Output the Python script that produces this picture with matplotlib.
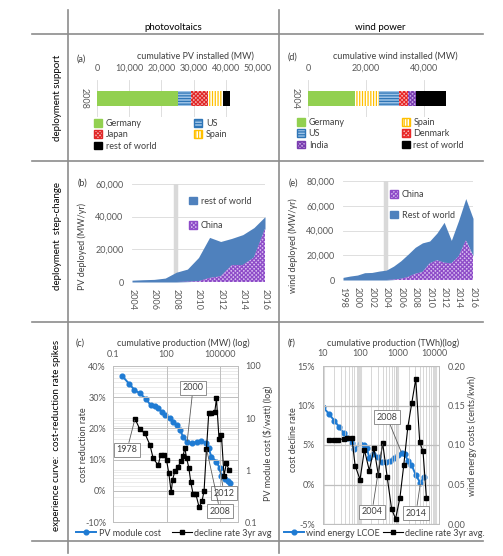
import matplotlib
matplotlib.use("Agg")
import numpy as np
import matplotlib.pyplot as plt
from matplotlib.lines import Line2D
from matplotlib.patches import Patch
from matplotlib.ticker import FuncFormatter, FixedLocator, LogLocator, NullFormatter, NullLocator

plt.rcParams['font.family'] = ['Lato', 'DejaVu Sans']
plt.rcParams['hatch.linewidth'] = 0.9

# (a) cumulative PV installed, 2008 (MW)
pv_countries = ['Germany', 'US', 'Japan', 'Spain', 'rest of world']
pv_installed_2008 = [25100, 4200, 5200, 4500, 2200]

# (d) cumulative wind installed, 2004 (MW)
wind_countries = ['Germany', 'Spain', 'US', 'Denmark', 'India', 'rest of world']
wind_installed_2004 = [16200, 8400, 6800, 3100, 2700, 10300]

# (b) PV deployed per year (MW/yr)
pv_years = list(range(2004, 2017))
pv_china = [0, 0, 0, 0, 0, 200, 500, 2500, 3500, 10300, 10400, 15000, 32700]
pv_rest = [1100, 1400, 1600, 2400, 6000, 7700, 14500, 24800, 21300, 16400, 18600, 18300, 7300]

# (e) wind deployed per year (MW/yr)
wind_years = list(range(1998, 2017))
wind_china = [0, 0, 0, 0, 0, 0, 0, 300, 1000, 2500, 5000, 6500, 13500, 16000, 14000, 13500, 19000, 32000, 19500]
wind_rest = [2100, 3200, 4000, 5900, 6100, 7200, 8000, 10900, 14500, 18300, 21400, 23500, 18000, 21900, 32600,
             18500, 29000, 33800, 30300]

# (c) PV experience curve
pv_cum_mw = [0.33, 0.78, 1.55, 3.2, 6.7, 12.8, 22, 34, 52, 80, 152, 234, 363, 550, 850, 1410, 2500, 4780,
             9000, 17000, 23000, 32000, 62000, 95000, 118000, 182000, 277000, 343000]
pv_module_cost = [64, 46, 35, 29.6, 23.7, 17.7, 17.1, 15.7, 13.1, 11.4, 9.8, 8.5, 7.3, 5.9, 4.4, 3.4, 3.3, 3.4,
                  3.6, 3.3, 2.6, 1.8, 1.45, 1.08, 0.75, 0.68, 0.62, 0.56]
pv_rate_cum_mw = [1.7, 3.2, 6.1, 11.7, 17.8, 34, 46, 71, 100, 134, 181, 216, 291, 445, 630, 845, 1050, 1310,
                  1760, 2280, 3060, 4330, 6620, 9750, 12600, 17200, 23100, 32700, 49900, 62100, 86800, 118000,
                  165000, 225000, 314000]
pv_decline_rate = [23.1, 19.7, 18.4, 14.7, 10.4, 8.2, 11.5, 11.4, 9.8, 5.6, -0.5, 3.4, 6.4, 7.7, 9.6, 11.2, 13.8,
                   10.6, 7.4, 2.7, -1.0, -1.0, -5.2, -3.2, 0.0, 13.5, 25.0, 25.0, 25.2, 29.6, 16.5, 17.9, 4.8,
                   8.9, 6.6]

# (f) wind experience curve
wind_cum_twh = [10, 14.7, 20, 27, 36, 45, 60, 70, 99, 127, 150, 176, 225, 296, 378, 483, 630, 806, 1050, 1300,
                1585, 1945, 2400, 3125, 4170, 5110]
wind_lcoe = [0.148, 0.139, 0.131, 0.123, 0.115, 0.109, 0.103, 0.095, 0.101, 0.100, 0.096, 0.084, 0.089, 0.085,
             0.079, 0.078, 0.080, 0.083, 0.087, 0.090, 0.088, 0.080, 0.075, 0.062, 0.052, 0.059]
wind_rate_cum_twh = [14.1, 19.2, 26, 36, 45, 60, 73, 99, 130, 176, 235, 307, 402, 533, 700, 895, 1170, 1490,
                     1910, 2440, 3125, 4000, 4900, 6040]
wind_decline_rate = [5.64, 5.64, 5.68, 5.77, 5.86, 5.86, 2.4, 0.63, 4.38, 1.77, 4.6, 1.22, 5.27, 0.93, -3.1,
                     -4.33, -1.72, 2.49, 7.25, 10.3, 13.35, 5.35, 4.2, -1.72]

W, H = 503, 556
fig = plt.figure(figsize=(W / 100, H / 100), dpi=100)

grey = '#D9D9D9'
tick_col = '#595959'
text_col = '#404040'
area_blue = '#4F81BD'
line_blue = '#1F7BD3'
fs = 6.5

# hatch styles for countries
styles = {
    'Germany': dict(facecolor='#92D050', edgecolor='#92D050', hatch=None),
    'US': dict(facecolor='#9DC3E6', edgecolor='#2E75B6', hatch='------'),
    'Japan': dict(facecolor='#F4B0B0', edgecolor='#E02828', hatch='xxxxxxxx'),
    'Spain': dict(facecolor='#FFFFFF', edgecolor='#FFC000', hatch='||||||'),
    'Denmark': dict(facecolor='#F7B8B8', edgecolor='#E82828', hatch='xxxxxxxx'),
    'India': dict(facecolor='#C9A9E6', edgecolor='#7A3DB0', hatch='xxxxxxxx'),
    'rest of world': dict(facecolor='#000000', edgecolor='#000000', hatch=None),
}
china_style = dict(facecolor='#D7BDF0', edgecolor='#8E4CC8', hatch='xxxxxxxx')


def box(l, t, r, b):
    return [l / W, 1 - b / H, (r - l) / W, (b - t) / H]


def ftext(x, y, s, **kw):
    kw.setdefault('fontsize', fs)
    kw.setdefault('ha', 'center')
    kw.setdefault('va', 'center')
    return fig.text(x / W, 1 - y / H, s, **kw)


def rule(x0, y0, x1, y1):
    fig.add_artist(Line2D([x0 / W, x1 / W], [1 - y0 / H, 1 - y1 / H], color='#8C8C8C', lw=1.2))


# table frame
rule(68, 10, 68, 553)
rule(279, 10, 279, 553)
for yy in [34, 161, 322, 541]:
    rule(32, yy, 483, yy)

ftext(173, 28, 'photovoltaics', fontsize=7)
ftext(380, 28, 'wind power', fontsize=7)
ftext(57, 98, 'deployment support', rotation=90, fontsize=7)
ftext(57, 236, 'deployment  step-change', rotation=90, fontsize=7)
ftext(57, 435, 'experience curve:  cost-reduction rate spikes', rotation=90, fontsize=7)

comma = FuncFormatter(lambda v, p: f'{v:,.0f}')


# ---- bar panels ----
def bar_panel(rect, countries, values, xmax, ticks, year):
    ax = fig.add_axes(box(*rect))
    left = 0
    for c, v in zip(countries, values):
        ax.barh(0, v, left=left, height=0.38, lw=0, **styles[c])
        left += v
    ax.set_xlim(0, xmax)
    ax.set_ylim(-0.5, 0.5)
    ax.set_xticks(ticks)
    ax.xaxis.set_major_formatter(comma)
    ax.xaxis.tick_top()
    ax.set_yticks([0])
    ax.set_yticklabels([year], rotation=-90, va='center')
    ax.tick_params(length=0, labelsize=fs, colors=tick_col)
    ax.tick_params(axis='x', pad=5)
    ax.tick_params(axis='y', pad=6)
    ax.grid(axis='x', color=grey, lw=0.6)
    ax.set_axisbelow(True)
    for s in ax.spines.values():
        s.set_visible(False)
    return ax


ax_a = bar_panel((97, 80, 258, 117), pv_countries, pv_installed_2008, 50000, range(0, 50001, 10000), '2008')
ftext(81, 59, '(a)', color=text_col)
ftext(195, 56, 'cumulative PV installed (MW)', color=text_col)
order_a = ['Germany', 'Japan', 'rest of world', 'US', 'Spain']
fig.legend([Patch(**styles[c]) for c in order_a], order_a, ncol=2, loc='upper left',
           bbox_to_anchor=(94 / W, 1 - 119 / H), frameon=False, fontsize=fs, handlelength=0.9,
           handleheight=0.9, handletextpad=0.4, columnspacing=4.2, labelspacing=0.25, borderaxespad=0,
           borderpad=0, labelcolor=text_col)

ax_d = bar_panel((308, 80, 453, 117), wind_countries, wind_installed_2004, 50000, [0, 20000, 40000], '2004')
ftext(292, 57, '(d)', color=text_col)
ftext(395, 56, 'cumulative wind installed (MW)', color=text_col)
order_d = ['Germany', 'US', 'India', 'Spain', 'Denmark', 'rest of world']
fig.legend([Patch(**styles[c]) for c in order_d], order_d, ncol=2, loc='upper left',
           bbox_to_anchor=(297 / W, 1 - 118 / H), frameon=False, fontsize=fs, handlelength=0.9,
           handleheight=0.9, handletextpad=0.4, columnspacing=6.3, labelspacing=0.25, borderaxespad=0,
           borderpad=0, labelcolor=text_col)


# ---- area panels ----
def area_panel(rect, years, china, rest, ymax, ystep, band_year):
    ax = fig.add_axes(box(*rect))
    yrs = np.array(years)
    ch = np.array(china)
    tot = ch + np.array(rest)
    ax.axvline(band_year, color=grey, lw=3.2, zorder=1)
    ax.fill_between(yrs, ch, tot, color=area_blue, lw=0, zorder=2)
    ax.fill_between(yrs, 0, ch, lw=0, zorder=3, **china_style)
    ax.set_xlim(years[0], years[-1])
    ax.set_ylim(0, ymax)
    ax.set_yticks(range(0, ymax + 1, ystep))
    ax.yaxis.set_major_formatter(comma)
    ax.set_xticks(range(years[0], years[-1] + 1, 2))
    ax.tick_params(axis='x', rotation=-90, pad=5)
    ax.tick_params(length=0, labelsize=fs, colors=tick_col)
    ax.tick_params(axis='y', pad=6)
    ax.grid(axis='y', color=grey, lw=0.6)
    ax.set_axisbelow(True)
    for s in ax.spines.values():
        s.set_visible(False)
    return ax


ax_b = area_panel((132, 184, 265, 282), pv_years, pv_china, pv_rest, 60000, 20000, 2008)
ftext(82, 183, '(b)', color=text_col)
ftext(82, 246, 'PV deployed (MW/yr)', rotation=90, color=text_col)
ax_b.legend([Patch(color=area_blue), Patch(**china_style)], ['rest of world', 'China'], loc='upper left',
            bbox_to_anchor=(0.43, 0.87), frameon=False, fontsize=fs, handlelength=0.9, handleheight=0.9,
            handletextpad=0.4, labelspacing=1.7, borderpad=0, borderaxespad=0, labelcolor=text_col)

ax_e = area_panel((343, 181, 473, 280), wind_years, wind_china, wind_rest, 80000, 20000, 2004)
ftext(293, 183, '(e)', color=text_col)
ftext(293, 246, 'wind deployed (MW/yr)', rotation=90, color=text_col)
ax_e.legend([Patch(**china_style), Patch(color=area_blue)], ['China', 'Rest of world'], loc='upper left',
            bbox_to_anchor=(0.36, 0.91), frameon=False, fontsize=fs, handlelength=0.9, handleheight=0.9,
            handletextpad=0.4, labelspacing=1.3, borderpad=0, borderaxespad=0, labelcolor=text_col)


# ---- experience-curve panels ----
box_kw = dict(boxstyle='square,pad=0.3', fc='white', ec='#7F7F7F', lw=0.6)
arrow_kw = dict(arrowstyle='-', color='#595959', lw=0.6, shrinkA=0, shrinkB=1)


def callout(ax, text, xy, xycoords, pos):
    ax.annotate(text, xy=xy, xycoords=xycoords, xytext=(pos[0], H - pos[1]), textcoords='figure pixels',
                ha='center', va='center', fontsize=fs, color=text_col, bbox=box_kw, arrowprops=arrow_kw,
                zorder=10)


# (c)
ax_c = fig.add_axes(box(113, 366, 238, 522))
ax_c2 = ax_c.twinx()
ax_c.set_zorder(ax_c2.get_zorder() + 1)
ax_c.patch.set_visible(False)

ax_c2.plot(pv_cum_mw, pv_module_cost, color=line_blue, lw=1.4, marker='o', ms=3.4, mec=line_blue)
ax_c.plot(pv_rate_cum_mw, pv_decline_rate, color='black', lw=0.8, marker='s', ms=3.3)

ax_c.set_xscale('log')
ax_c.set_xlim(0.1, 1e6)
ax_c.xaxis.set_major_locator(FixedLocator([0.1, 100, 1e5]))
ax_c.xaxis.set_minor_locator(NullLocator())
ax_c.xaxis.set_major_formatter(FuncFormatter(lambda v, p: f'{v:g}'))
ax_c.xaxis.tick_top()
ax_c.set_ylim(-10, 40)
ax_c.set_yticks(range(-10, 41, 10))
ax_c.yaxis.set_major_formatter(FuncFormatter(lambda v, p: f'{v:.0f}%'))
ax_c.grid(axis='both', which='major', color='#BFBFBF', lw=0.7)

ax_c2.set_yscale('log')
ax_c2.set_ylim(0.1, 100)
ax_c2.yaxis.set_major_locator(FixedLocator([0.1, 1, 10, 100]))
ax_c2.yaxis.set_major_formatter(FuncFormatter(lambda v, p: f'{v:g}'))
ax_c2.yaxis.set_minor_locator(LogLocator(base=10, subs=np.arange(2, 10)))
ax_c2.yaxis.set_minor_formatter(NullFormatter())
ax_c2.grid(axis='y', which='both', color='#E3E3E3', lw=0.5)

for a in (ax_c, ax_c2):
    a.tick_params(which='both', length=0, labelsize=fs, colors=tick_col, pad=5)
    for s in a.spines.values():
        s.set_color('#BFBFBF')
        s.set_linewidth(0.7)

ftext(80, 343, '(c)', color=text_col)
ftext(183, 343, 'cumulative production (MW) (log)', color=text_col)
ftext(83, 445, 'cost reduction rate', rotation=90, color=text_col)
ftext(268, 443, 'PV module cost (\\$/watt) (log)', rotation=90, color=text_col)

callout(ax_c, '1978', (pv_rate_cum_mw[0], pv_decline_rate[0]), 'data', (127, 450))
callout(ax_c, '2000', (pv_cum_mw[15], pv_module_cost[15]), ax_c2.transData, (193, 388))
callout(ax_c, '2012', (pv_cum_mw[23], pv_module_cost[23]), ax_c2.transData, (224, 493))
callout(ax_c, '2008', (pv_rate_cum_mw[25], pv_decline_rate[25]), 'data', (220, 511))

fig.legend([Line2D([], [], color=line_blue, lw=1.4, marker='o', ms=3.4),
            Line2D([], [], color='black', lw=0.8, marker='s', ms=3.3)],
           ['PV module cost', 'decline rate 3yr avg'], ncol=2, loc='center',
           bbox_to_anchor=(174 / W, 1 - 533 / H), frameon=False, fontsize=fs, handlelength=2.2,
           handletextpad=0.3, columnspacing=1.2, borderpad=0, borderaxespad=0, labelcolor=text_col)

# (f)
ax_f = fig.add_axes(box(323, 366, 439, 524))
ax_f2 = ax_f.twinx()
ax_f.set_zorder(ax_f2.get_zorder() + 1)
ax_f.patch.set_visible(False)

ax_f2.plot(wind_cum_twh, wind_lcoe, color=line_blue, lw=1.4, marker='o', ms=3.4, mec=line_blue)
ax_f.plot(wind_rate_cum_twh, wind_decline_rate, color='black', lw=0.8, marker='s', ms=3.3)

ax_f.set_xscale('log')
ax_f.set_xlim(10, 10 ** 4.12)
ax_f.xaxis.set_major_locator(FixedLocator([10, 100, 1000, 10000]))
ax_f.xaxis.set_major_formatter(FuncFormatter(lambda v, p: f'{v:g}'))
ax_f.xaxis.set_minor_locator(LogLocator(base=10, subs=np.arange(2, 10)))
ax_f.xaxis.set_minor_formatter(NullFormatter())
ax_f.xaxis.tick_top()
ax_f.set_ylim(-5, 15)
ax_f.set_yticks(range(-5, 16, 5))
ax_f.yaxis.set_major_formatter(FuncFormatter(lambda v, p: f'{v:.0f}%'))
ax_f.grid(axis='y', color='#BFBFBF', lw=0.9)
ax_f.grid(axis='x', which='major', color='#D9D9D9', lw=2.2)
ax_f.grid(axis='x', which='minor', color='#C8C8C8', lw=0.5)

ax_f2.set_ylim(0, 0.20)
ax_f2.set_yticks(np.arange(0, 0.201, 0.05))
ax_f2.yaxis.set_major_formatter(FuncFormatter(lambda v, p: f'{v:.2f}'))

for a in (ax_f, ax_f2):
    a.tick_params(which='both', length=0, labelsize=fs, colors=tick_col, pad=6)
    for s in a.spines.values():
        s.set_color('#BFBFBF')
        s.set_linewidth(0.7)

ftext(292, 343, '(f)', color=text_col)
ftext(393, 343, 'cumulative production (TWh)(log)', color=text_col)
ftext(293, 440, 'cost decline rate', rotation=90, color=text_col)
ftext(472, 436, 'wind energy costs (cents/kwh)', rotation=90, color=text_col)

callout(ax_f, '2008', (wind_cum_twh[19], wind_lcoe[19]), ax_f2.transData, (387, 417))
callout(ax_f, '2004', (wind_rate_cum_twh[12], wind_decline_rate[12]), 'data', (372, 512))
callout(ax_f, '2014', (wind_cum_twh[24], wind_lcoe[24]), ax_f2.transData, (416, 513))

fig.legend([Line2D([], [], color=line_blue, lw=1.4, marker='o', ms=3.4),
            Line2D([], [], color='black', lw=0.8, marker='s', ms=3.3)],
           ['wind energy LCOE', 'decline rate 3yr avg.'], ncol=2, loc='center',
           bbox_to_anchor=(384 / W, 1 - 533 / H), frameon=False, fontsize=fs, handlelength=2.2,
           handletextpad=0.2, columnspacing=0.4, borderpad=0, borderaxespad=0, labelcolor=text_col)

fig.savefig('out.png', dpi=100, facecolor='white')
